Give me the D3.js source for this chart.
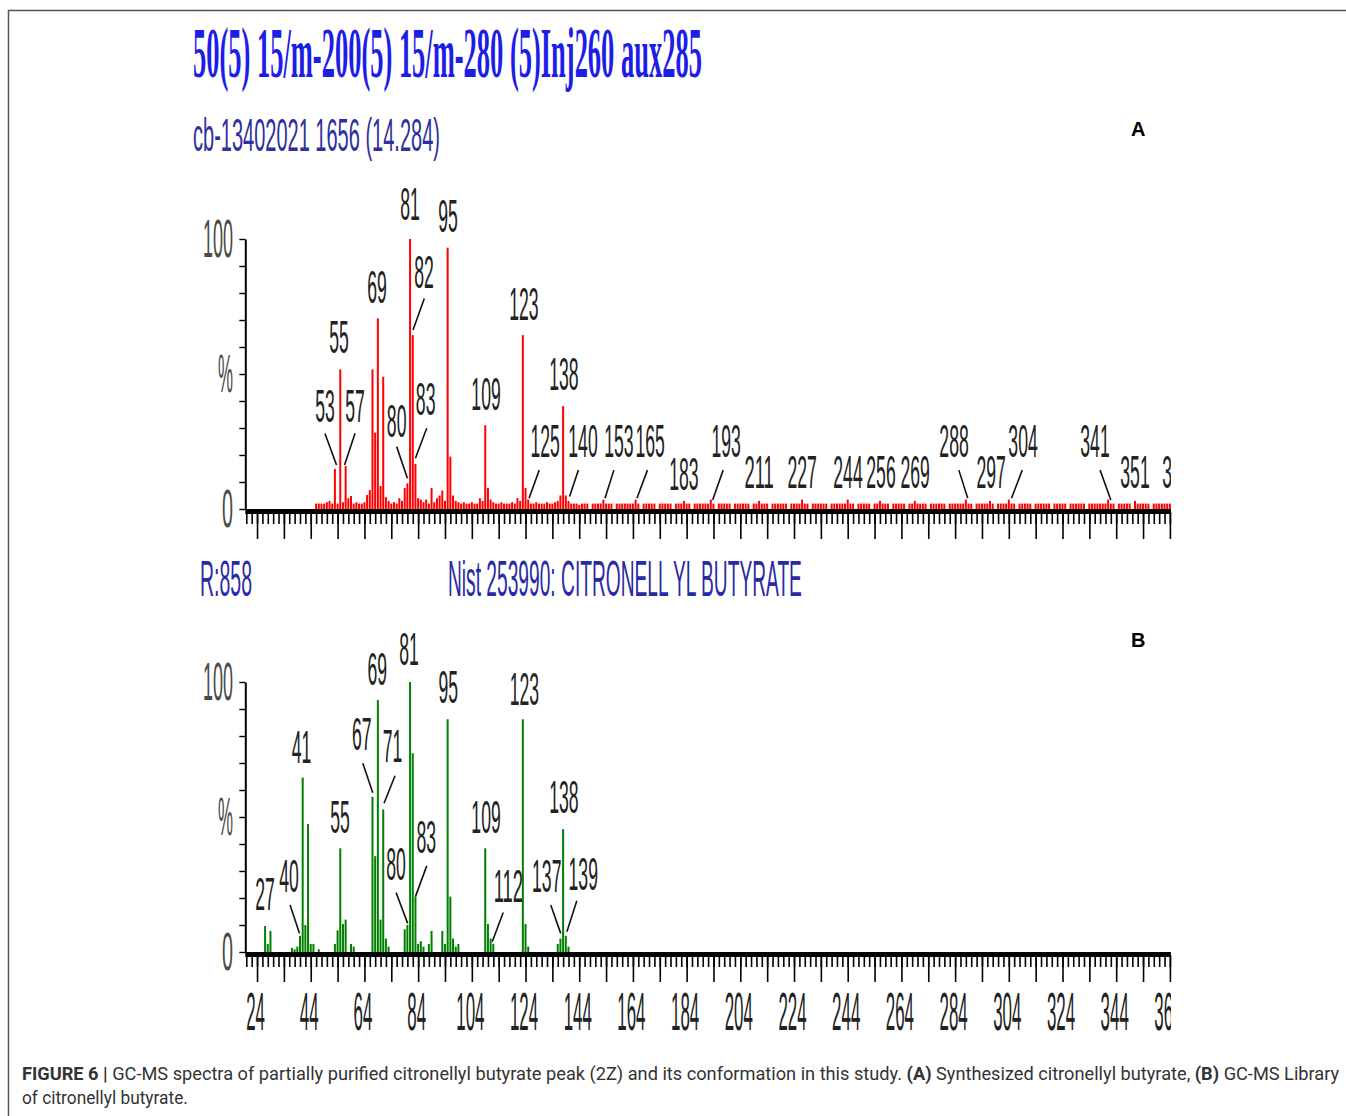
<!DOCTYPE html>
<html>
<head>
<meta charset="utf-8">
<script src="https://cdn.jsdelivr.net/npm/d3@7"></script>
<style>
  body { margin: 0; background: #fff; }
  svg { display: block; }
</style>
</head>
<body>
<svg id="fig" width="1346" height="1116"></svg>
<script>
// ---- data ----
// panel A (synthesized sample): m/z, relative intensity %
const peaksA = [
  [46,2],[47,2],[48,2],[49,2],[50,2.5],[51,3],[52,2],[53,14.8],[54,2],[55,51.7],
  [56,2.5],[57,15.9],[58,4],[59,4.8],[60,2],[61,2.5],[62,2],[63,2],[64,2.5],[65,5.2],
  [66,7],[67,51.7],[68,28.3],[69,70.6],[70,8.5],[71,49],[72,4.4],[73,3],[74,2],[75,2.5],
  [76,2],[77,4],[78,3],[79,7.8],[80,9.5],[81,100],[82,64.4],[83,16.7],[84,4],[85,3.5],
  [86,2.5],[87,3.5],[88,2],[89,7.8],[90,2.5],[91,4],[92,5],[93,6.8],[94,3],[95,96.8],
  [96,19.4],[97,5],[98,3],[99,2.5],[100,2],[101,2.5],[102,2],[103,2],[104,2.5],[105,2],
  [106,2],[107,4],[108,3],[109,31],[110,7.8],[111,3.5],[112,2.5],[113,2],[114,2],[115,2.5],
  [116,2],[117,2],[118,2],[119,2.5],[120,2],[121,4],[122,3],[123,64.4],[124,7.8],[125,3.5],
  [126,2],[127,2],[128,2.5],[129,2],[130,2],[131,2],[132,2.5],[133,2],[134,2],[135,2.5],
  [136,3],[137,5],[138,38.1],[139,5],[140,3]
];
// panel A low-level signal, one value per m/z starting at 141
const noiseStartA = 141;
const noiseA = [
  2,2,2,1.5,2,2,2,0,2,2,2,2,3.5,2,2,2,0,2,2,2,
  2,2,2,2,3.5,2,0,2,2,2,2,2,0,2,2,2,2,2,0,2,
  2,2,3,2,2,0,2,2,2,2,2,2,3.5,2,0,2,2,2,2,2,
  0,2,2,2,2,2,2,0,2,2,3,2,2,2,0,2,2,2,2,2,
  2,0,2,2,2,2,3.5,2,2,0,2,2,2,2,2,2,0,2,2,2,
  2,2,2,3.5,2,2,0,2,2,2,2,2,0,2,2,3,2,2,2,0,
  2,2,2,2,2,0,2,2,3,2,2,2,2,0,2,2,2,2,2,2,
  0,2,2,2,2,2,2,3.5,2,2,0,2,2,2,2,2,3,2,0,2,
  2,2,2,3.5,2,2,0,2,2,2,2,2,0,2,2,2,2,2,2,0,
  2,2,2,2,2,0,2,2,2,2,2,2,0,2,2,2,2,2,2,2,
  3.5,2,2,0,2,2,2,2,2,0,3,2,2,2,2,2,0,2,2,2,
  2,2,2,2
];
// panel B (NIST library spectrum)
const peaksB = [
  [27,9.6],[28,3],[29,7.8],[37,1.5],[38,1],[39,2],[40,6],[41,64.6],[42,10],[43,47.4],
  [44,3],[45,3],[47,1],[53,3],[54,8],[55,38.4],[56,10.4],[57,12],[59,3],[60,2],
  [67,57.5],[68,35.5],[69,93.3],[70,12],[71,52.8],[72,5],[73,2],[79,8.4],[80,10],[81,100],
  [82,73.6],[83,20.5],[84,3],[85,4],[86,2],[88,3],[89,7.8],[93,7.8],[94,3],[95,86.2],
  [96,20.5],[97,5],[98,2],[99,3],[109,38.4],[110,10.4],[111,5],[112,3],[123,86.2],[124,10.4],
  [125,2],[136,3],[137,5],[138,45.5],[139,6],[140,2]
];
const xTickLabels = [24,44,64,84,104,124,144,164,184,204,224,244,264,284,304,324,344,364];
const yTickLabels = [[100,'100'],[50,'%'],[0,'0']];
const peakLabelsA = ['53','55','57','69','80','81','82','83','95','109','123','125','138','140',
  '153','165','183','193','211','227','244','256','269','288','297','304','341','351','365'];
const peakLabelsB = ['27','40','41','55','67','69','71','80','81','83','95','109','112','123','137','138','139'];

const titleText = '50(5) 15/m-200(5) 15/m-280 (5)Inj260 aux285';
const scanText = 'cb-13402021 1656 (14.284)';
const matchText = 'R:858';
const libText = 'Nist 253990: CITRONELL YL BUTYRATE';

// ---- layout: label anchors in data units [m/z, %], leaders [m1,%1,m2,%2] ----
const labelPosA = {
  '53':[49.3,32.2],'55':[54.5,57.8],'57':[60.5,32.2],'69':[68.7,76.3],'80':[76,26.7],
  '81':[81,107],'82':[86.2,81.9],'83':[86.8,34.8],'95':[95.1,102.6],'109':[109.3,36.7],
  '123':[123.4,70],'125':[131.3,19.3],'138':[138.3,44.1],'140':[145.4,19.3],
  '153':[158.8,19.3],'165':[170.4,19.3],'183':[183,7],'193':[198.7,19.3],'211':[211,7.8],
  '227':[227,7.8],'244':[244.1,7.8],'256':[256.4,7.8],'269':[269.1,7.8],'288':[283.6,19.3],
  '297':[297.4,7.8],'304':[309.3,19.3],'341':[336.1,19.3],'351':[351,7.8],'365':[366.6,7.8]
};
const leaderPosA = {
  '53':[49.3,28,53.6,16.3],'57':[60.5,28.1,56.6,16.3],'80':[76,23.1,80,11.4],
  '82':[86.3,78,82.1,66.3],'83':[87.2,29.9,83,18.8],'125':[129.1,14.4,125.3,4],
  '140':[143.7,14.4,140.4,4.6],'153':[156.9,14.4,153.6,4],'165':[169.4,14.4,165.5,4],
  '193':[197.6,14.4,193.7,3.3],'288':[285.4,14.4,288.7,4],'304':[309,14.4,305,4],
  '341':[338,14.4,342,3.3]
};
const labelPosB = {
  '27':[27,15.6],'40':[35.9,22.2],'41':[40.6,70],'55':[54.9,44.1],'67':[63,74.8],
  '69':[68.8,98.9],'71':[74.5,70.4],'80':[75.8,26.7],'81':[80.6,106.3],'83':[87,36.7],
  '95':[95.2,92.2],'109':[109.3,44.1],'112':[117.6,18.5],'123':[123.6,91.5],
  '137':[131.9,22.2],'138':[138.3,51.5],'139':[145.5,23]
};
const leaderPosB = {
  '40':[36.3,17.4,39.8,6.9],'67':[63.4,69.9,67.1,59],'71':[75.4,65.3,71.3,55.1],
  '80':[75.8,22,80.1,10.6],'83':[87.2,31.9,83,20.5],'112':[115.7,14.6,111.6,3.8],
  '137':[133.4,17.4,137.1,6.9],'139':[143.1,19,139.4,7.5]
};

const svg = d3.select('#fig');
const NARROW = 'Liberation Sans, Arial, sans-serif';

// outer frame
svg.append('rect')
    .attr('x', 8.5).attr('y', 10.5)
    .attr('width', 1400).attr('height', 1200)
    .attr('fill', 'none').attr('stroke', '#555').attr('stroke-width', 1.5);

const x = d3.scaleLinear().domain([20, 364]).range([246.3, 1169.9]);

svg.append('defs').append('clipPath').attr('id', 'plotclip')
  .append('rect').attr('x', 0).attr('y', 0).attr('width', 1171).attr('height', 1116);

// squeezed text helper: the instrument print uses a very condensed face,
// so the glyphs are scaled horizontally to the width seen in the figure
function squeeze(g, txt, px, py, size, len, anchor, fill, family, weight) {
  const gg = g.append('g');
  const t = gg.append('text')
      .attr('font-family', family || NARROW)
      .attr('font-weight', weight || 'normal')
      .attr('font-size', size)
      .attr('text-anchor', anchor)
      .attr('fill', fill)
      .text(txt);
  const w = t.node().getComputedTextLength();
  gg.attr('transform', 'translate(' + px + ',' + py + ') scale(' + (len / w) + ',1)');
  return t;
}

function drawPanel(y0, color, peaks, labels, labelPos, leaderPos, withXLabels) {
  const y = d3.scaleLinear().domain([0, 100]).range([y0, y0 - 270]);
  const g = svg.append('g');
  const plot = g.append('g').attr('clip-path', 'url(#plotclip)');

  // bars
  plot.selectAll('rect.bar')
    .data(peaks)
    .enter()
    .append('rect')
      .attr('class', 'bar')
      .attr('x', d => x(d[0]) - 1)
      .attr('width', 2)
      .attr('y', d => y(d[1]))
      .attr('height', d => y(0) - y(d[1]))
      .attr('fill', color);

  // x axis: thick base, minor ticks every 2, major every 10
  const minor = d3.axisBottom(x).tickValues(d3.range(20, 365, 2)).tickSize(12).tickFormat('').tickSizeOuter(0);
  const major = d3.axisBottom(x).tickValues(d3.range(24, 365, 10)).tickSize(27).tickFormat('').tickSizeOuter(0);
  [minor, major].forEach(ax => {
    const a = g.append('g').attr('transform', 'translate(0,' + (y0 + 3) + ')').call(ax);
    a.select('.domain').remove();
    a.selectAll('.tick line').attr('stroke', '#000').attr('stroke-width', 1.6);
  });
  g.append('rect')
      .attr('x', x(20) - 1).attr('y', y0)
      .attr('width', x(364) - x(20) + 2).attr('height', 5)
      .attr('fill', '#000');

  if (withXLabels) {
    const xl = g.append('g').attr('clip-path', 'url(#plotclip)');
    xTickLabels.forEach(v => {
      const s = String(v);
      squeeze(xl, s, x(v) - 1.5, y0 + 78, 53, s.length * 9.4, 'middle', '#222');
    });
  }

  // y axis
  const yAx = d3.axisLeft(y).tickValues(d3.range(0, 101, 10)).tickSize(6).tickFormat('').tickSizeOuter(0);
  const ya = g.append('g').attr('transform', 'translate(' + (x(20) - 1) + ',0)').call(yAx);
  ya.select('.domain').attr('stroke', '#000').attr('stroke-width', 2);
  ya.selectAll('.tick line').attr('stroke', '#000').attr('stroke-width', 1.4);
  yTickLabels.forEach(([v, s]) => {
    const w = s === '100' ? 30 : (s === '%' ? 15 : 11);
    squeeze(g, s, 233, y(v) + 18, 53, w, 'end', '#4a4a4a');
  });

  // leader lines and peak labels
  Object.keys(leaderPos).forEach(k => {
    const l = leaderPos[k];
    plot.append('line')
        .attr('x1', x(l[0])).attr('y1', y(l[1]))
        .attr('x2', x(l[2])).attr('y2', y(l[3]))
        .attr('stroke', '#111').attr('stroke-width', 1.6);
  });
  labels.forEach(s => {
    const p = labelPos[s];
    squeeze(plot, s, x(p[0]), y(p[1]), 46, s.length * 9.8, 'middle', '#222');
  });
  return g;
}

// header texts
squeeze(svg, titleText, 193, 77, 72, 509, 'start', '#1d1de8', 'Liberation Serif, Times New Roman, serif', 'bold');
squeeze(svg, scanText, 193, 151, 47, 247, 'start', '#2f2f9e');
squeeze(svg, matchText, 200, 596, 50, 52, 'start', '#2a2aa6');
squeeze(svg, libText, 448, 596, 50, 354, 'start', '#2a2aa6');

svg.append('text').attr('x', 1131).attr('y', 136)
    .attr('font-family', NARROW).attr('font-weight', 'bold').attr('font-size', 20)
    .text('A');
svg.append('text').attr('x', 1131).attr('y', 647)
    .attr('font-family', NARROW).attr('font-weight', 'bold').attr('font-size', 20)
    .text('B');

// panel A with its low-level signal
const allA = peaksA.concat(noiseA.map((v, i) => [noiseStartA + i, v]).filter(d => d[1] > 0));
drawPanel(509, '#ff0000', allA, peakLabelsA, labelPosA, leaderPosA, false);
drawPanel(952, '#008000', peaksB, peakLabelsB, labelPosB, leaderPosB, true);

// caption
const capG = svg.append('g');
const cap1 = capG.append('text')
    .attr('font-family', 'Roboto, sans-serif').attr('font-size', 17.5)
    .attr('fill', '#333');
cap1.append('tspan').attr('font-weight', 'bold').text('FIGURE 6 | ');
cap1.append('tspan').text('GC-MS spectra of partially purified citronellyl butyrate peak (2Z) and its conformation in this study. ');
cap1.append('tspan').attr('font-weight', 'bold').text('(A)');
cap1.append('tspan').text(' Synthesized citronellyl butyrate, ');
cap1.append('tspan').attr('font-weight', 'bold').text('(B)');
cap1.append('tspan').text(' GC-MS Library');
const capW = cap1.node().getComputedTextLength();
capG.attr('transform', 'translate(22,1080) scale(' + (1318 / capW) + ',1)');
squeeze(svg, 'of citronellyl butyrate.', 22, 1104, 17.5, 166, 'start', '#333', 'Roboto, sans-serif');
</script>
</body>
</html>
